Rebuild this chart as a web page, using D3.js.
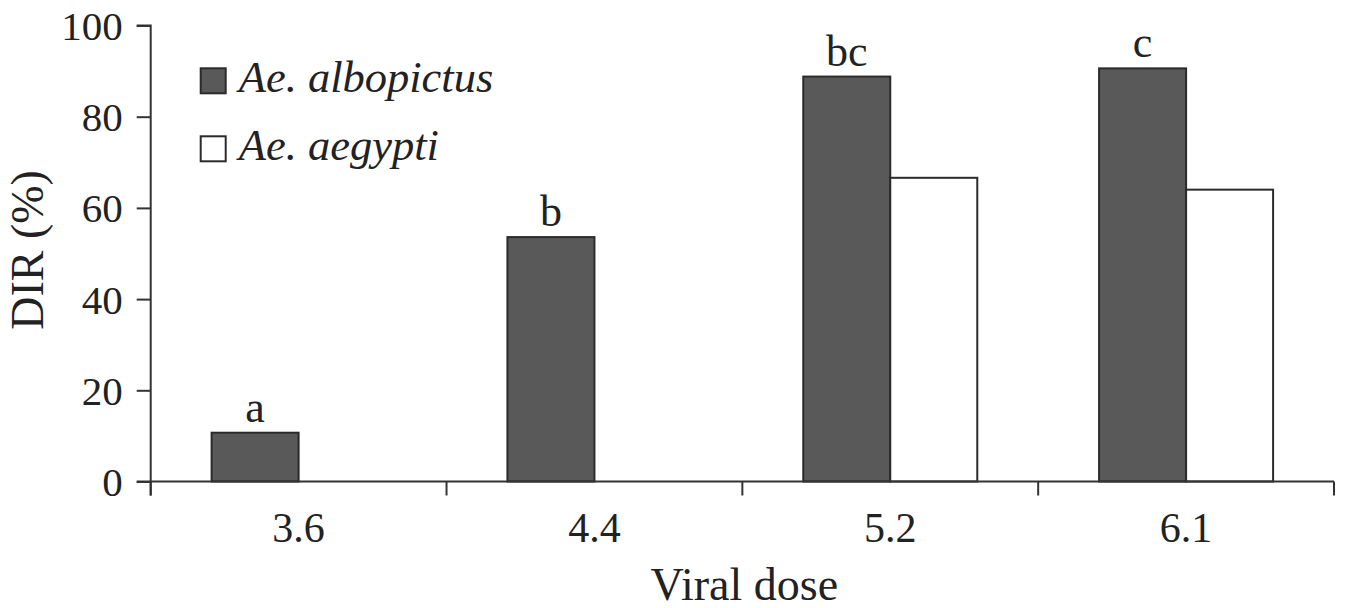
<!DOCTYPE html>
<html>
<head>
<meta charset="utf-8">
<script src="https://cdn.jsdelivr.net/npm/d3@7"></script>
<style>
  body { margin: 0; background: #fff; }
  svg text { font-family: "Liberation Serif", "Times New Roman", serif; fill: #222; }
</style>
</head>
<body>
<div id="js-canvas"></div>
<script>
"use strict";

// Viral dose groups on the x axis.
const doses = ["3.6", "4.4", "5.2", "6.1"];

// Species in the legend.
const species = ["Ae. albopictus", "Ae. aegypti"];

// DIR (%) for each dose.
const albopictus = [10.7, 53.6, 88.8, 90.6];
const aegypti = [0, 0, 66.6, 64.0];

// Letters above the albopictus bars.
const letters = ["a", "b", "bc", "c"];

const yTicks = [0, 20, 40, 60, 80, 100];

const width = 1347;
const height = 608;
const margin = { top: 25.5, right: 13, bottom: 126.5, left: 150.7 };

const fills = ["#595959", "#ffffff"];

function createCanvas(w, h) {
  return d3.select("#js-canvas")
    .append("svg")
      .attr("width", w)
      .attr("height", h);
}

const svg = createCanvas(width, height);
const g = svg.append("g")
  .attr("transform", "translate(" + margin.left + "," + margin.top + ")");

const innerW = width - margin.left - margin.right;
const innerH = height - margin.top - margin.bottom;

const x0 = d3.scaleBand().domain(doses).range([0, innerW]).padding(0);
const x1 = d3.scaleBand().domain(species).range([0, x0.bandwidth()])
  .paddingInner(0).paddingOuter(0.7);
const y = d3.scaleLinear().domain([0, 100]).range([innerH, 0]);

const rows = doses.map(function (d, i) {
  return { dose: d, values: [albopictus[i], aegypti[i]], letter: letters[i] };
});

// bars
const groups = g.append("g")
  .selectAll("g")
  .data(rows)
  .enter()
  .append("g")
    .attr("transform", function (d) { return "translate(" + x0(d.dose) + ",0)"; });

groups.selectAll("rect")
  .data(function (d) {
    return d.values.map(function (v, j) { return { sp: species[j], v: v, j: j }; })
      .filter(function (e) { return e.v > 0; });
  })
  .enter()
  .append("rect")
    .attr("x", function (d) { return x1(d.sp); })
    .attr("y", function (d) { return y(d.v); })
    .attr("width", x1.bandwidth())
    .attr("height", function (d) { return innerH - y(d.v); })
    .attr("fill", function (d) { return fills[d.j]; })
    .attr("stroke", "#2b2b2b")
    .attr("stroke-width", 2);

// significance letters
groups.append("text")
  .attr("x", x1(species[0]) + x1.bandwidth() / 2)
  .attr("y", function (d) { return y(d.values[0]) - 11; })
  .attr("text-anchor", "middle")
  .attr("font-size", 44)
  .text(function (d) { return d.letter; });

// y axis
const yAxis = g.append("g")
  .call(d3.axisLeft(y).tickValues(yTicks).tickSize(14).tickSizeOuter(14).tickPadding(14));
yAxis.selectAll("text").attr("font-size", 41).attr("dy", "0.34em");
yAxis.selectAll("line, path").attr("stroke", "#333").attr("stroke-width", 2);
yAxis.select(".domain").attr("d", "M-14," + y(100) + "H0V" + (innerH + 14));

// x axis: labels at band centres, ticks at band edges
const xAxis = g.append("g")
  .attr("transform", "translate(0," + innerH + ")");
xAxis.append("line")
  .attr("x1", -14).attr("x2", innerW)
  .attr("stroke", "#333").attr("stroke-width", 2);
xAxis.selectAll(".edge")
  .data(doses.map(function (d) { return x0(d); }).concat([innerW]))
  .enter()
  .append("line")
    .attr("x1", function (d) { return d; })
    .attr("x2", function (d) { return d; })
    .attr("y2", 14)
    .attr("stroke", "#333").attr("stroke-width", 2);
xAxis.selectAll(".lab")
  .data(doses)
  .enter()
  .append("text")
    .attr("x", function (d) { return x0(d) + x0.bandwidth() / 2; })
    .attr("y", 60)
    .attr("text-anchor", "middle")
    .attr("font-size", 42)
    .text(function (d) { return d; });

// axis titles
g.append("text")
  .attr("x", innerW / 2 + 2)
  .attr("y", innerH + 118)
  .attr("text-anchor", "middle")
  .attr("font-size", 46)
  .text("Viral dose");

g.append("text")
  .attr("transform", "translate(" + (-margin.left + 43) + "," + (250 - margin.top) + ") rotate(-90)")
  .attr("text-anchor", "middle")
  .attr("font-size", 46)
  .text("DIR (%)");

// legend
const legend = g.append("g")
  .attr("transform", "translate(" + (200.7 - margin.left) + "," + (68.3 - margin.top) + ")");
const item = legend.selectAll("g")
  .data(species)
  .enter()
  .append("g")
    .attr("transform", function (d, i) { return "translate(0," + i * 68 + ")"; });
item.append("rect")
  .attr("width", 25).attr("height", 25)
  .attr("fill", function (d, i) { return fills[i]; })
  .attr("stroke", "#2b2b2b").attr("stroke-width", 2);
item.append("text")
  .attr("x", 38)
  .attr("y", 24)
  .attr("font-size", 44.5)
  .attr("font-style", "italic")
  .text(function (d) { return d; });
</script>
</body>
</html>
